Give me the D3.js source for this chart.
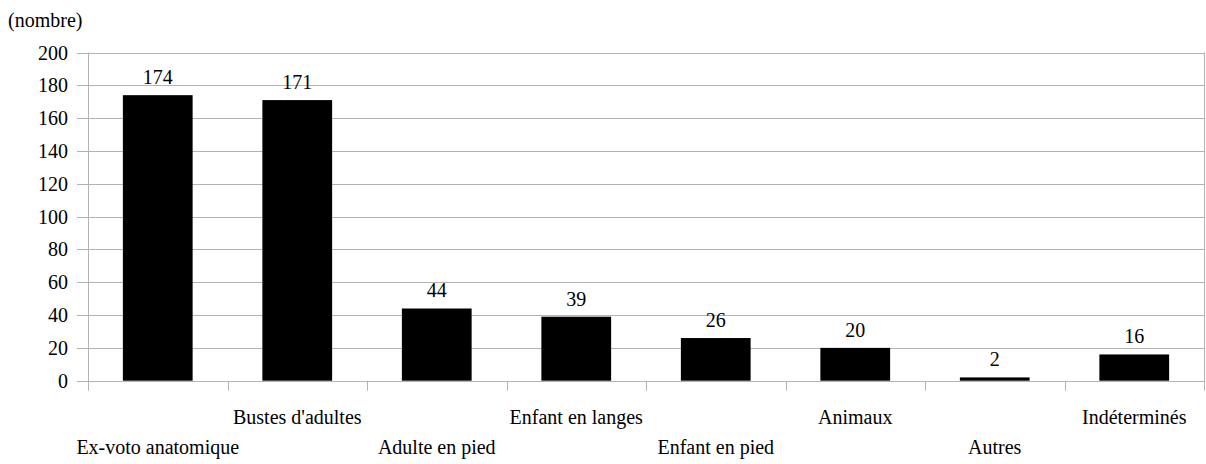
<!DOCTYPE html>
<html lang="en">
<head>
<meta charset="UTF-8">
<title>Ex-voto</title>
<style>
  body { margin: 0; background: #fff; }
</style>
</head>
<body>
<svg id="chart" width="1206" height="464"></svg>
<script src="https://d3js.org/d3.v7.min.js"></script>
<script>
const categories = ["Ex-voto anatomique", "Bustes d'adultes", "Adulte en pied", "Enfant en langes",
                    "Enfant en pied", "Animaux", "Autres", "Indéterminés"];
const values = [174, 171, 44, 39, 26, 20, 2, 16];
const yTicks = [0, 20, 40, 60, 80, 100, 120, 140, 160, 180, 200];

const svg = d3.select("#chart");
const plotLeft = 88, plotRight = 1204, plotTop = 52.5, plotBottom = 380.7;
const font = "'Liberation Serif', 'DejaVu Serif', serif";
const fontSize = 20;

const x = d3.scaleBand().domain(categories).range([plotLeft, plotRight]).paddingInner(0.5).paddingOuter(0.25);
const y = d3.scaleLinear().domain([0, 200]).range([plotBottom, plotTop]);
const gridColor = "#b3b3b3";

// horizontal gridlines with left ticks
svg.append("g").selectAll("line").data(yTicks).enter().append("line")
    .attr("x1", plotLeft - 11).attr("x2", plotRight)
    .attr("y1", d => Math.round(y(d)) + 0.5).attr("y2", d => Math.round(y(d)) + 0.5)
    .attr("stroke", gridColor).attr("stroke-width", 1);

// y tick labels
svg.append("g").selectAll("text").data(yTicks).enter().append("text")
    .attr("x", 68).attr("y", d => y(d) + 7)
    .attr("text-anchor", "end").attr("font-size", fontSize).attr("font-family", font)
    .text(d => d);

// left axis and right border
svg.append("line").attr("x1", plotLeft + 0.5).attr("x2", plotLeft + 0.5)
    .attr("y1", plotTop).attr("y2", plotBottom + 10).attr("stroke", gridColor);
svg.append("line").attr("x1", plotRight + 0.5).attr("x2", plotRight + 0.5)
    .attr("y1", plotTop).attr("y2", plotBottom + 10).attr("stroke", gridColor);

// category separators
const step = x.step();
const seps = d3.range(1, categories.length).map(i => plotLeft + i * step);
svg.append("g").selectAll("line").data(seps).enter().append("line")
    .attr("x1", d => Math.round(d) + 0.5).attr("x2", d => Math.round(d) + 0.5)
    .attr("y1", plotBottom).attr("y2", plotBottom + 10)
    .attr("stroke", gridColor);

// bars
svg.append("g").selectAll("rect").data(values).enter().append("rect")
    .attr("x", (d, i) => x(categories[i]))
    .attr("width", x.bandwidth())
    .attr("y", d => y(d))
    .attr("height", d => plotBottom - y(d))
    .attr("fill", "#000");

// value labels
svg.append("g").selectAll("text").data(values).enter().append("text")
    .attr("x", (d, i) => x(categories[i]) + x.bandwidth() / 2)
    .attr("y", d => y(d) - 11)
    .attr("text-anchor", "middle").attr("font-size", fontSize).attr("font-family", font)
    .text(d => d);

// category labels, staggered
svg.append("g").selectAll("text").data(categories).enter().append("text")
    .attr("x", d => x(d) + x.bandwidth() / 2)
    .attr("y", (d, i) => i % 2 === 0 ? 454 : 424)
    .attr("text-anchor", "middle").attr("font-size", fontSize).attr("font-family", font)
    .text(d => d);

svg.append("text").attr("x", 8).attr("y", 27).attr("font-size", fontSize).attr("font-family", font)
    .text("(nombre)");
</script>
</body>
</html>
